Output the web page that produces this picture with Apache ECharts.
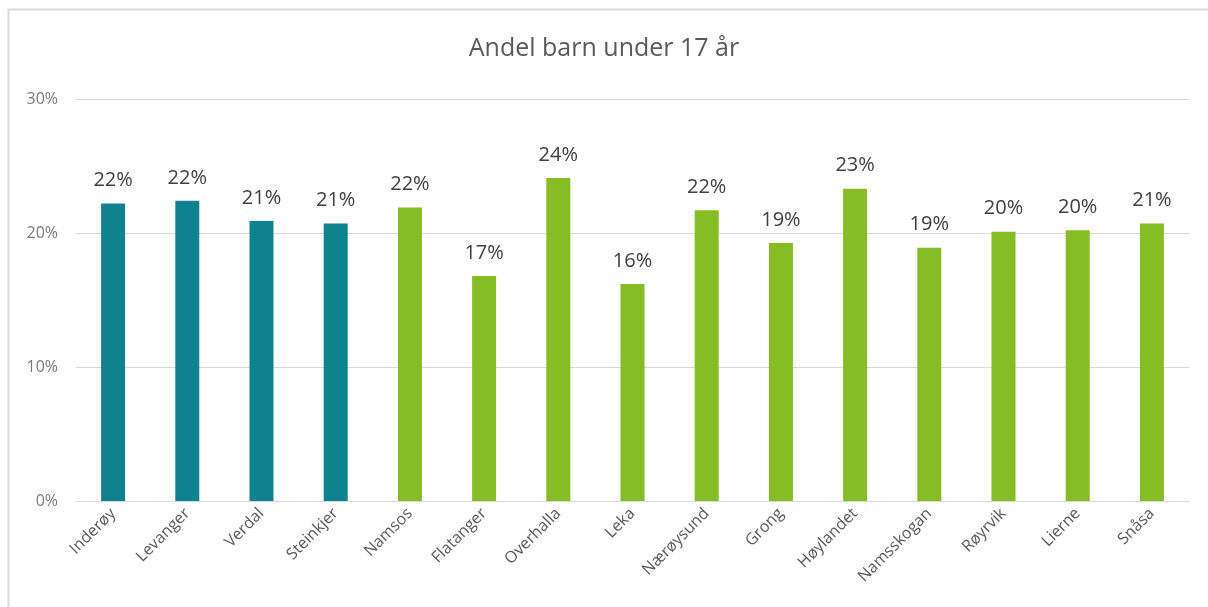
<!DOCTYPE html>
<html>
<head>
<meta charset="utf-8">
<script src="https://cdn.jsdelivr.net/npm/echarts@6/dist/echarts.min.js"></script>
<style>html,body{margin:0;padding:0;background:#fff;}#c{width:1208px;height:607px;}</style>
</head>
<body>
<div id="c"></div>
<script>
const title = "Andel barn under 17 år";
const categories = ["Inderøy","Levanger","Verdal","Steinkjer","Namsos","Flatanger","Overhalla","Leka","Nærøysund","Grong","Høylandet","Namsskogan","Røyrvik","Lierne","Snåsa"];
const values = [0.222,0.224,0.209,0.207,0.219,0.168,0.241,0.162,0.217,0.1925,0.233,0.189,0.201,0.202,0.207];
const tealCount = 4;
const yTicks = [0, 0.1, 0.2, 0.3];

const chart = echarts.init(document.getElementById('c'));
const font = '"Open Sans", "Noto Sans", sans-serif';
chart.setOption({
  animation: false,
  backgroundColor: '#fff',
  textStyle: { fontFamily: font },
  title: {
    text: title, left: 'center', top: 31,
    textStyle: { fontFamily: font, fontSize: 25, fontWeight: 'normal', color: '#595959' }
  },
  graphic: [{
    type: 'rect', shape: { x: 8.5, y: 9.5, width: 1220, height: 620 },
    style: { fill: 'none', stroke: '#d9d9d9', lineWidth: 2 }, silent: true
  }],
  grid: { left: 76, right: 19, top: 99, bottom: 106 },
  xAxis: {
    type: 'category', data: categories,
    axisLine: { lineStyle: { color: '#d9d9d9', width: 1 } },
    axisTick: { show: false },
    axisLabel: { rotate: 45, interval: 0, fontSize: 16, color: '#595959', fontFamily: font, margin: 10 }
  },
  yAxis: {
    type: 'value', min: yTicks[0], max: yTicks[yTicks.length - 1], interval: 0.1,
    axisLine: { show: false }, axisTick: { show: false },
    splitLine: { lineStyle: { color: '#d9d9d9', width: 1 } },
    axisLabel: { fontSize: 16, color: '#7a7a7a', fontFamily: font, margin: 18,
      formatter: v => Math.round(v * 100) + '%' }
  },
  series: [{
    type: 'bar', data: values, barWidth: 24,
    itemStyle: { color: p => p.dataIndex < tealCount ? '#0e838f' : '#86bc25' },
    label: { show: true, position: 'top', distance: 13, fontSize: 20, color: '#404040', fontFamily: font,
      formatter: p => Math.round(p.value * 100) + '%' }
  }]
});
</script>
</body>
</html>
